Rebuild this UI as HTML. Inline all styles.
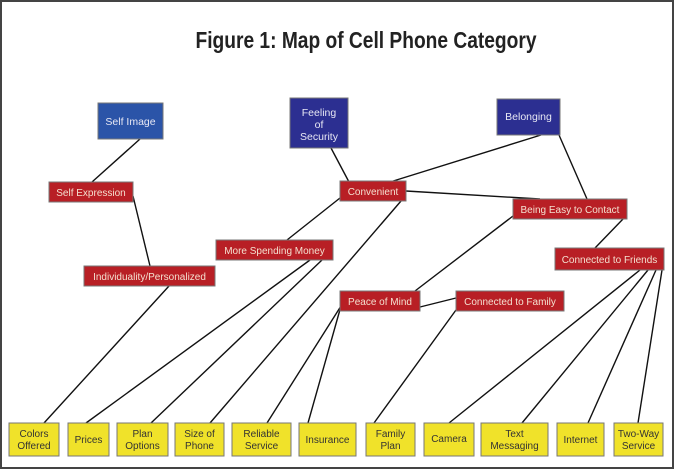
<!DOCTYPE html>
<html><head><meta charset="utf-8"><style>
html,body{margin:0;padding:0;background:#fff;}
svg{display:block;}
text{font-family:"Liberation Sans",sans-serif;}
.t{font-size:10px;fill:#f4e0d0;text-anchor:middle;}
.b{font-size:10.5px;fill:#e8e8f4;text-anchor:middle;}
.y{font-size:10px;fill:#333;text-anchor:middle;}
.r{fill:#b81f25;stroke:#777;stroke-width:1;}
.bl{fill:#2c2f91;stroke:#777;stroke-width:1;}
.yl{fill:#f0e22a;stroke:#777;stroke-width:1;}
line{stroke:#111;stroke-width:1.4;}
.title{font-weight:700;font-size:23px;fill:#222;}
</style></head><body>
<svg width="675" height="470" viewBox="0 0 675 470">
<rect x="1" y="1" width="672" height="467" fill="#fff" stroke="#444" stroke-width="2"/>
<text class="title" x="366" y="48" text-anchor="middle" style="font-weight:bold" textLength="341" lengthAdjust="spacingAndGlyphs">Figure 1: Map of Cell Phone Category</text>
<g>
<line x1="140" y1="139" x2="92" y2="182"/>
<line x1="133" y1="196" x2="150" y2="266"/>
<line x1="169" y1="286" x2="44" y2="423"/>
<line x1="310" y1="260" x2="86" y2="423"/>
<line x1="322" y1="260" x2="151" y2="423"/>
<line x1="340" y1="198" x2="287" y2="240"/>
<line x1="401" y1="201" x2="210" y2="423"/>
<line x1="331" y1="148" x2="349" y2="182"/>
<line x1="541" y1="135" x2="390" y2="182"/>
<line x1="559" y1="135" x2="587" y2="199"/>
<line x1="406" y1="191" x2="540" y2="199"/>
<line x1="513" y1="216" x2="415" y2="291"/>
<line x1="623" y1="219" x2="595" y2="248"/>
<line x1="420" y1="307" x2="456" y2="298"/>
<line x1="341" y1="306" x2="267" y2="423"/>
<line x1="341" y1="306" x2="308" y2="423"/>
<line x1="456" y1="310" x2="374" y2="423"/>
<line x1="640" y1="270" x2="449" y2="423"/>
<line x1="648" y1="270" x2="522" y2="423"/>
<line x1="656" y1="270" x2="588" y2="423"/>
<line x1="662" y1="270" x2="638" y2="423"/>
</g>
<rect class="bl" x="98" y="103" width="65" height="36" style="fill:#2b54a8"/>
<text class="b" x="130.5" y="125">Self Image</text>
<rect class="bl" x="290" y="98" width="58" height="50"/>
<text class="b" x="319" y="116">Feeling</text><text class="b" x="319" y="128">of</text><text class="b" x="319" y="140">Security</text>
<rect class="bl" x="497" y="99" width="63" height="36"/>
<text class="b" x="528.5" y="120">Belonging</text>
<rect class="r" x="49" y="182" width="84" height="20"/><text class="t" x="91" y="196">Self Expression</text>
<rect class="r" x="84" y="266" width="131" height="20"/><text class="t" x="149.5" y="280">Individuality/Personalized</text>
<rect class="r" x="216" y="240" width="117" height="20"/><text class="t" x="274.5" y="254">More Spending Money</text>
<rect class="r" x="340" y="181" width="66" height="20"/><text class="t" x="373" y="195">Convenient</text>
<rect class="r" x="513" y="199" width="114" height="20"/><text class="t" x="570" y="213">Being Easy to Contact</text>
<rect class="r" x="555" y="248" width="109" height="22"/><text class="t" x="609.5" y="263">Connected to Friends</text>
<rect class="r" x="340" y="291" width="80" height="20"/><text class="t" x="380" y="305">Peace of Mind</text>
<rect class="r" x="456" y="291" width="108" height="20"/><text class="t" x="510" y="305">Connected to Family</text>
<g>
<rect class="yl" x="9" y="423" width="50" height="33"/><text class="y" x="34" y="437">Colors</text><text class="y" x="34" y="449">Offered</text>
<rect class="yl" x="68" y="423" width="41" height="33"/><text class="y" x="88.5" y="443">Prices</text>
<rect class="yl" x="117" y="423" width="51" height="33"/><text class="y" x="142.5" y="437">Plan</text><text class="y" x="142.5" y="449">Options</text>
<rect class="yl" x="175" y="423" width="49" height="33"/><text class="y" x="199.5" y="437">Size of</text><text class="y" x="199.5" y="449">Phone</text>
<rect class="yl" x="232" y="423" width="59" height="33"/><text class="y" x="261.5" y="437">Reliable</text><text class="y" x="261.5" y="449">Service</text>
<rect class="yl" x="299" y="423" width="57" height="33"/><text class="y" x="327.5" y="443">Insurance</text>
<rect class="yl" x="366" y="423" width="49" height="33"/><text class="y" x="390.5" y="437">Family</text><text class="y" x="390.5" y="449">Plan</text>
<rect class="yl" x="424" y="423" width="50" height="33"/><text class="y" x="449" y="442">Camera</text>
<rect class="yl" x="481" y="423" width="67" height="33"/><text class="y" x="514.5" y="437">Text</text><text class="y" x="514.5" y="449">Messaging</text>
<rect class="yl" x="557" y="423" width="47" height="33"/><text class="y" x="580.5" y="443">Internet</text>
<rect class="yl" x="614" y="423" width="49" height="33"/><text class="y" x="638.5" y="437">Two-Way</text><text class="y" x="638.5" y="449">Service</text>
</g>
</svg>
</body></html>
